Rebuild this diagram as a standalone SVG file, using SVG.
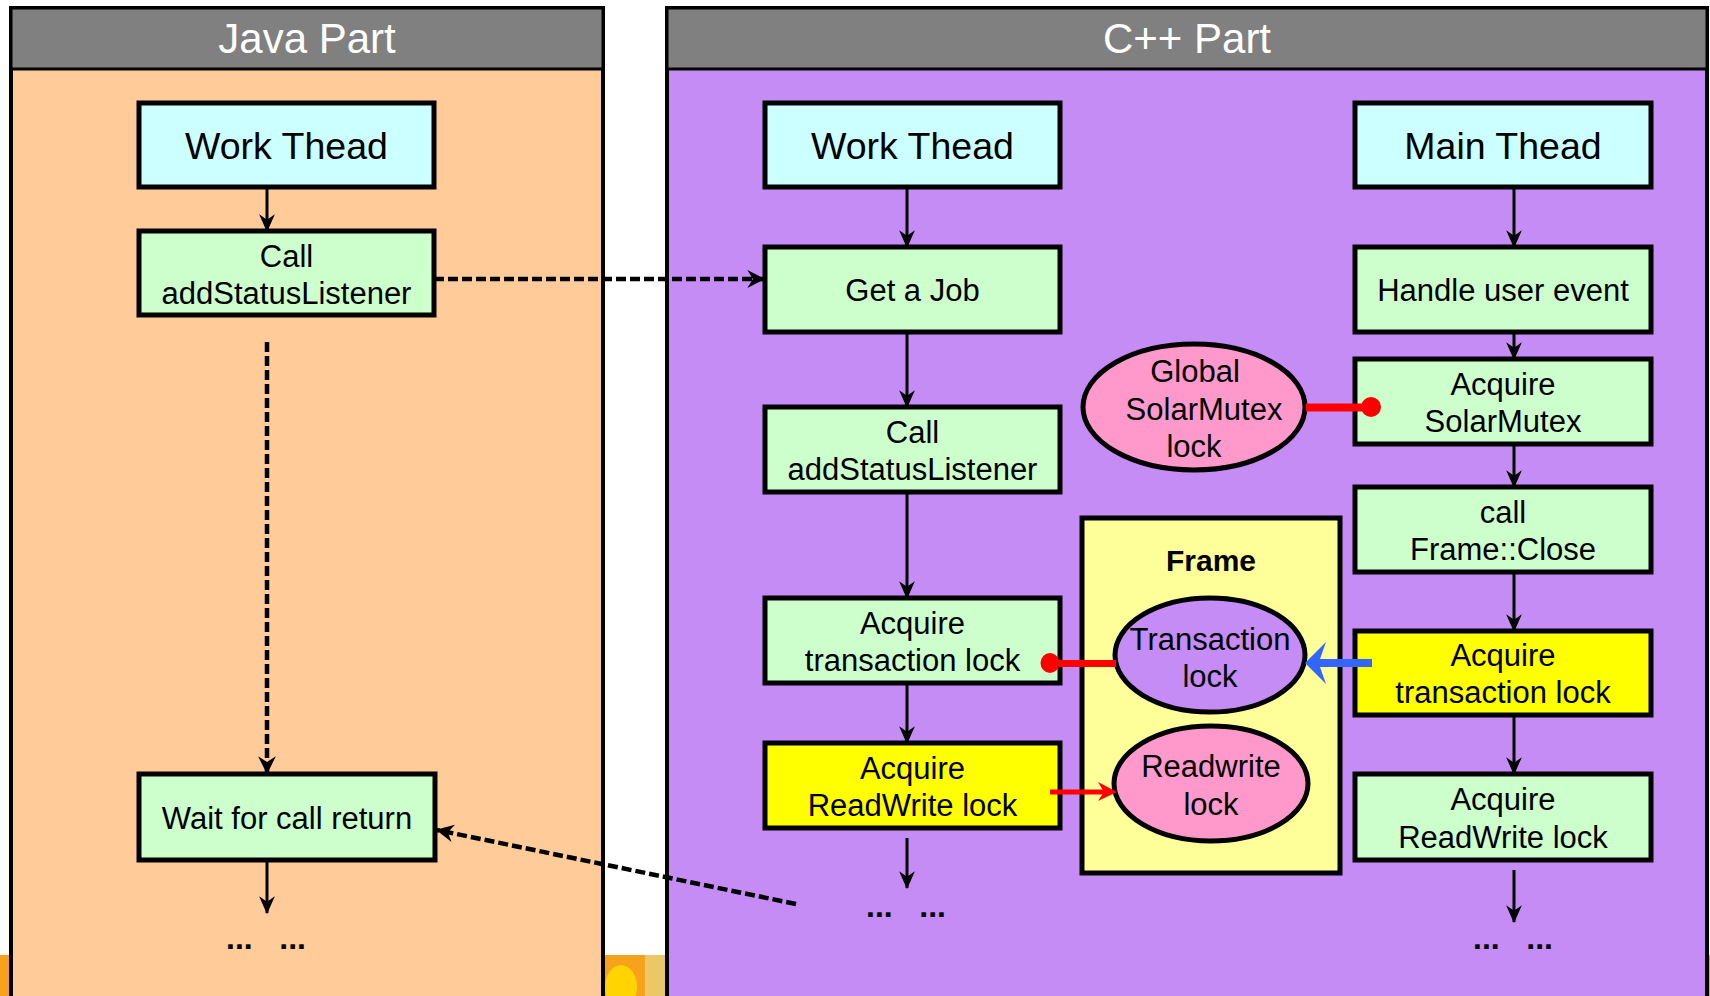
<svg xmlns="http://www.w3.org/2000/svg" width="1710" height="996" viewBox="0 0 1710 996">
<style>
  .t{font-family:"Liberation Sans",Arial,sans-serif;fill:#000;text-anchor:middle}
  .s31{font-size:31px}
  .s37{font-size:37.5px}
  .hdr{font-family:"Liberation Sans",Arial,sans-serif;font-size:42px;fill:#fff;text-anchor:middle}
  .dots{font-family:"Liberation Sans",Arial,sans-serif;font-size:32px;font-weight:bold;text-anchor:middle}
  .box{stroke:#000;stroke-width:5}
  .thread{fill:#CCFFFF}
  .green{fill:#CCFFCC}
  .yellow{fill:#FFFF00}
  .pink{fill:#FF99CC;stroke:#000;stroke-width:5}
  .arr{stroke:#000;stroke-width:3;fill:none;marker-end:url(#ah)}
  .dash{stroke:#000;stroke-width:4.5;fill:none;stroke-dasharray:10 4;marker-end:url(#ahd)}
</style>
<defs>
  <marker id="ah" markerUnits="userSpaceOnUse" markerWidth="18" markerHeight="18" viewBox="0 0 16 16" refX="15" refY="8" orient="auto">
    <path d="M0,1 L16,8 L0,15 L5,8 Z" fill="#000"/>
  </marker>
  <marker id="ahd" markerUnits="userSpaceOnUse" markerWidth="18" markerHeight="20" viewBox="0 0 16 18" refX="15" refY="9" orient="auto">
    <path d="M0,1 L16,9 L0,17 L5,9 Z" fill="#000"/>
  </marker>
</defs>

<!-- background remnants -->
<rect x="0" y="0" width="1710" height="996" fill="#fff"/>
<rect x="0" y="955" width="1710" height="41" fill="#F7A21C"/>
<ellipse cx="621" cy="987" rx="16" ry="22" fill="#FFD400"/>
<rect x="645" y="955" width="21" height="41" fill="#EAC866"/>

<!-- panels -->
<g id="java-part">
  <rect x="11" y="8" width="592" height="1000" fill="#FFCC99" stroke="#000" stroke-width="4"/>
  <rect x="11" y="8" width="592" height="61" fill="#808080" stroke="#000" stroke-width="3"/>
  <text class="hdr" x="307" y="53">Java Part</text>
</g>
<g id="cpp-part">
  <rect x="667" y="8" width="1040" height="1000" fill="#C58CF6" stroke="#000" stroke-width="4"/>
  <rect x="667" y="8" width="1040" height="61" fill="#808080" stroke="#000" stroke-width="3"/>
  <text class="hdr" x="1187" y="53">C++ Part</text>
</g>

<!-- Java nodes -->
<g id="java-work-thread">
  <rect class="box thread" x="139" y="103" width="295" height="84"/>
  <text class="t s37" x="286.5" y="159">Work Thead</text>
</g>
<g id="java-call">
  <rect class="box green" x="139" y="231" width="295" height="84"/>
  <text class="t s31" x="286.5" y="267">Call</text>
  <text class="t s31" x="286.5" y="304">addStatusListener</text>
</g>
<g id="java-wait">
  <rect class="box green" x="139" y="774" width="296" height="86"/>
  <text class="t s31" x="287" y="829">Wait for call return</text>
</g>
<g id="java-more">
  <text class="dots" x="266" y="949">...&#160;&#160;&#160;...</text>
</g>

<!-- C++ work thread nodes -->
<g id="cpp-work-thread">
  <rect class="box thread" x="765" y="103" width="295" height="84"/>
  <text class="t s37" x="912.5" y="159">Work Thead</text>
</g>
<g id="cpp-get-job">
  <rect class="box green" x="765" y="247" width="295" height="85"/>
  <text class="t s31" x="912.5" y="301">Get a Job</text>
</g>
<g id="cpp-call">
  <rect class="box green" x="765" y="407" width="295" height="85"/>
  <text class="t s31" x="912.5" y="443">Call</text>
  <text class="t s31" x="912.5" y="480">addStatusListener</text>
</g>
<g id="cpp-acquire-transaction">
  <rect class="box green" x="765" y="598" width="295" height="85"/>
  <text class="t s31" x="912.5" y="634">Acquire</text>
  <text class="t s31" x="912.5" y="671">transaction lock</text>
</g>
<g id="cpp-acquire-readwrite">
  <rect class="box yellow" x="765" y="743" width="295" height="85"/>
  <text class="t s31" x="912.5" y="779">Acquire</text>
  <text class="t s31" x="912.5" y="816">ReadWrite lock</text>
</g>
<g id="cpp-work-more">
  <text class="dots" x="906" y="917">...&#160;&#160;&#160;...</text>
</g>

<!-- Main thread nodes -->
<g id="main-thread">
  <rect class="box thread" x="1355" y="103" width="296" height="84"/>
  <text class="t s37" x="1503" y="159">Main Thead</text>
</g>
<g id="main-handle">
  <rect class="box green" x="1355" y="247" width="296" height="85"/>
  <text class="t s31" x="1503" y="301">Handle user event</text>
</g>
<g id="main-acquire-solar">
  <rect class="box green" x="1355" y="359" width="296" height="85"/>
  <text class="t s31" x="1503" y="395">Acquire</text>
  <text class="t s31" x="1503" y="432">SolarMutex</text>
</g>
<g id="main-call-close">
  <rect class="box green" x="1355" y="487" width="296" height="85"/>
  <text class="t s31" x="1503" y="523">call</text>
  <text class="t s31" x="1503" y="560">Frame::Close</text>
</g>
<g id="main-acquire-transaction">
  <rect class="box yellow" x="1355" y="631" width="296" height="84"/>
  <text class="t s31" x="1503" y="666">Acquire</text>
  <text class="t s31" x="1503" y="703">transaction lock</text>
</g>
<g id="main-acquire-readwrite">
  <rect class="box green" x="1355" y="774" width="296" height="86"/>
  <text class="t s31" x="1503" y="810">Acquire</text>
  <text class="t s31" x="1503" y="848">ReadWrite lock</text>
</g>
<g id="main-more">
  <text class="dots" x="1513" y="949">...&#160;&#160;&#160;...</text>
</g>

<!-- Locks -->
<g id="global-solarmutex">
  <ellipse class="pink" cx="1194" cy="407" rx="111" ry="63"/>
  <text class="t s31" x="1195" y="382">Global</text>
  <text class="t s31" x="1204" y="420">SolarMutex</text>
  <text class="t s31" x="1194" y="457">lock</text>
</g>
<g id="frame">
  <rect x="1082" y="518" width="258" height="355" fill="#FFFF99" stroke="#000" stroke-width="5"/>
  <text class="t" x="1211" y="571" style="font-size:30px;font-weight:bold">Frame</text>
</g>
<g id="transaction-lock">
  <ellipse cx="1210" cy="655" rx="95" ry="57" fill="#C58CF6" stroke="#000" stroke-width="5"/>
  <text class="t s31" x="1210" y="650">Transaction</text>
  <text class="t s31" x="1210" y="687">lock</text>
</g>
<g id="readwrite-lock">
  <ellipse class="pink" cx="1211" cy="783.5" rx="97" ry="57.5"/>
  <text class="t s31" x="1211" y="777">Readwrite</text>
  <text class="t s31" x="1211" y="815">lock</text>
</g>

<!-- Connectors -->
<g id="connectors">
  <!-- Java -->
  <line class="arr" x1="267" y1="187" x2="267" y2="231"/>
  <line class="dash" x1="267" y1="342" x2="267" y2="773"/>
  <line class="arr" x1="267" y1="862" x2="267" y2="913"/>
  <line class="dash" x1="434" y1="279" x2="764" y2="279"/>
  <line class="dash" x1="796" y1="904" x2="437" y2="830"/>
  <!-- C++ work thread -->
  <line class="arr" x1="907" y1="187" x2="907" y2="247"/>
  <line class="arr" x1="907" y1="332" x2="907" y2="407"/>
  <line class="arr" x1="907" y1="492" x2="907" y2="598"/>
  <line class="arr" x1="907" y1="685" x2="907" y2="743"/>
  <line class="arr" x1="907" y1="838" x2="907" y2="888"/>
  <!-- main thread -->
  <line class="arr" x1="1514" y1="187" x2="1514" y2="247"/>
  <line class="arr" x1="1514" y1="332" x2="1514" y2="359"/>
  <line class="arr" x1="1514" y1="444" x2="1514" y2="487"/>
  <line class="arr" x1="1514" y1="572" x2="1514" y2="631"/>
  <line class="arr" x1="1514" y1="717" x2="1514" y2="774"/>
  <line class="arr" x1="1514" y1="870" x2="1514" y2="922"/>
  <!-- lock holds -->
  <line x1="1306" y1="407.5" x2="1371" y2="407.5" stroke="#FF0000" stroke-width="8"/>
  <circle cx="1371" cy="407" r="10" fill="#FF0000"/>
  <line x1="1116" y1="663.5" x2="1050" y2="663.5" stroke="#FF0000" stroke-width="7"/>
  <ellipse cx="1050" cy="663" rx="9.5" ry="10" fill="#FF0000"/>
  <!-- blue waiting arrow -->
  <path d="M1372,659 L1320,659 L1326,642 L1305,663 L1326,684 L1320,667 L1372,667 Z" fill="#3366FF"/>
  <!-- red readwrite arrow -->
  <line x1="1050" y1="792" x2="1104" y2="792" stroke="#FF0000" stroke-width="5"/>
  <path d="M1117,792 L1098,782 L1104,792 L1098,801 Z" fill="#FF0000"/>
</g>
</svg>
